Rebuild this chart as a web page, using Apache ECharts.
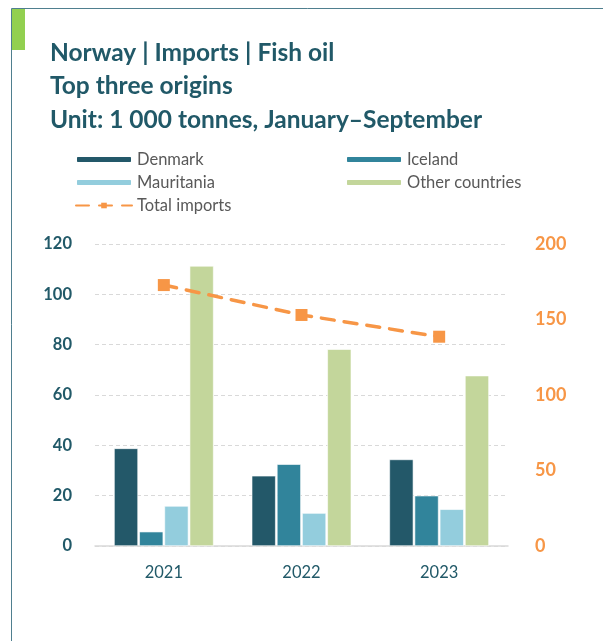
<!DOCTYPE html>
<html><head><meta charset="utf-8">
<script src="https://cdn.jsdelivr.net/npm/echarts@6/dist/echarts.min.js"></script>
<style>html,body{margin:0;padding:0;background:#fff}#c{width:603px;height:641px}</style>
</head><body><div id="c"></div>
<script>
const categories = ['2021', '2022', '2023'];
const denmark = [38.8, 27.9, 34.4];
const iceland = [5.7, 32.5, 20.0];
const mauritania = [15.9, 13.1, 14.6];
const otherCountries = [111.3, 78.2, 67.7];
const totalImports = [172.8, 153.0, 138.6];
const leftTicks = [0, 20, 40, 60, 80, 100, 120];
const rightTicks = [0, 50, 100, 150, 200];

const FONT = 'Lato';
const dark = '#215968';
const orange = '#f79646';

const chart = echarts.init(document.getElementById('c'), null, {renderer: 'canvas'});
const bar = (name, data, color) => ({
  name, type: 'bar', data, yAxisIndex: 0, barWidth: 24, barGap: '5%',
  itemStyle: {color, borderColor: '#ffffff', borderWidth: 0.6}
});
chart.setOption({
  animation: false,
  textStyle: {fontFamily: FONT},
  title: {
    text: 'Norway | Imports | Fish oil\nTop three origins\nUnit: 1 000 tonnes, January\u2013September',
    left: 45, top: 31,
    textStyle: {fontFamily: FONT, fontWeight: 'bold', fontSize: 24.5, lineHeight: 33.5, color: dark}
  },
  graphic: [
    {type: 'line', shape: {x1: 11.5, y1: 8.5, x2: 603, y2: 8.5}, style: {stroke: '#4f7f8f', lineWidth: 1}},
    {type: 'line', shape: {x1: 11.5, y1: 8.5, x2: 11.5, y2: 641}, style: {stroke: '#4f7f8f', lineWidth: 1}},
    {type: 'rect', shape: {x: 12, y: 9, width: 13, height: 41}, style: {fill: '#92d050'}}
  ],
  legend: [
    {
      data: ['Denmark', 'Mauritania', 'Total imports'],
      orient: 'vertical', left: 70, top: 145, itemWidth: 56, itemHeight: 7, itemGap: 4,
      textStyle: {fontFamily: FONT, fontSize: 16.5, color: '#595959', lineHeight: 19}
    },
    {
      data: ['Iceland', 'Other countries'],
      orient: 'vertical', left: 340, top: 145, itemWidth: 56, itemHeight: 7, itemGap: 4,
      textStyle: {fontFamily: FONT, fontSize: 16.5, color: '#595959', lineHeight: 19}
    }
  ],
  grid: {left: 95, right: 95, top: 244, bottom: 95, containLabel: false},
  xAxis: {
    type: 'category', data: categories,
    axisLine: {lineStyle: {color: '#d9d9d9', width: 1.5}},
    axisTick: {show: false},
    axisLabel: {color: dark, fontSize: 16.5, margin: 18, fontFamily: FONT}
  },
  yAxis: [
    {
      type: 'value', min: leftTicks[0], max: leftTicks[leftTicks.length - 1], interval: 20,
      axisLine: {show: false}, axisTick: {show: false},
      axisLabel: {color: dark, fontSize: 16.5, fontWeight: 'bold', margin: 23, fontFamily: FONT},
      splitLine: {lineStyle: {color: '#d9d9d9', type: [4, 3], width: 1}}
    },
    {
      type: 'value', min: rightTicks[0], max: rightTicks[rightTicks.length - 1], interval: 50,
      position: 'right',
      axisLine: {show: false}, axisTick: {show: false},
      axisLabel: {color: orange, fontSize: 18, fontWeight: 'bold', margin: 27, fontFamily: FONT},
      splitLine: {show: false}
    }
  ],
  series: [
    bar('Denmark', denmark, '#235869'),
    bar('Iceland', iceland, '#31849b'),
    bar('Mauritania', mauritania, '#93cddd'),
    bar('Other countries', otherCountries, '#c3d69b'),
    {
      name: 'Total imports', type: 'line', yAxisIndex: 1, data: totalImports,
      symbol: 'rect', symbolSize: 12,
      lineStyle: {color: orange, width: 3.5, type: [13, 10], cap: 'round'},
      itemStyle: {color: orange}
    }
  ]
});
</script></body></html>
